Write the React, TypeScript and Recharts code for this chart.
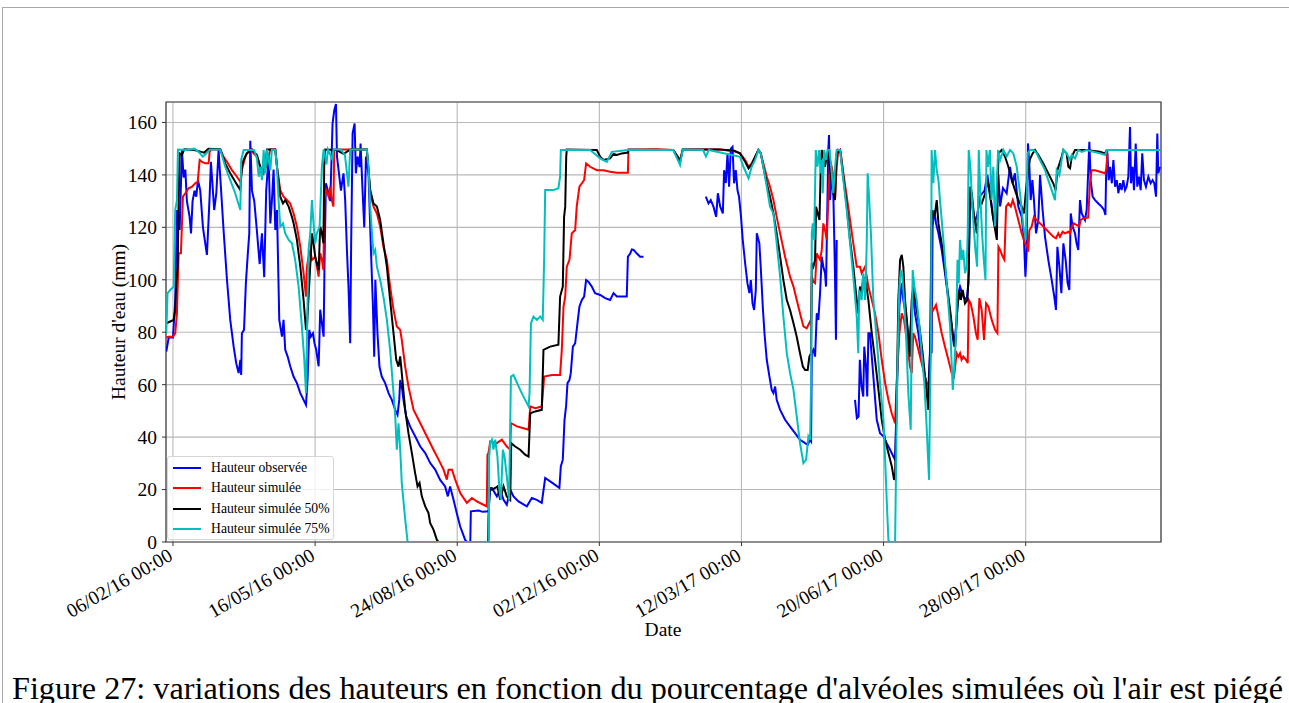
import { CartesianGrid, Line, LineChart, ReferenceArea, XAxis, YAxis } from "recharts"

const FONT = "'Liberation Serif', 'Times New Roman', serif"

// day offsets counted from 06/02/16
const START = Date.UTC(2016, 1, 6)
const xDomain = [-4.9, 695.2]
const xTicks = [0, 100, 200, 300, 400, 500, 600]
const yTicks = [0, 20, 40, 60, 80, 100, 120, 140, 160]

type Pt = [number, number | null]

const observed: Pt[] = [
  [-4.7, 72.6], [-3, 78], [0, 78], [1.6, 92], [2.8, 126.6], [4.7, 119], [6.3, 149.5], [7.5, 139], [8.7, 142], [9.8, 130],
  [11.7, 124], [12.7, 117.7], [13.8, 130], [15.2, 134], [16.4, 131.7], [17.6, 138], [19.2, 134], [21.1, 120], [23.9, 109.5],
  [25.8, 131.7], [26.7, 145], [28.1, 134], [29, 126.6], [30.5, 133], [32.1, 149.5], [33.3, 139], [35.6, 119], [38, 100],
  [40.3, 84.7], [42.7, 74.5], [44.5, 68.2], [46.2, 64.4], [47.4, 69.5], [48, 63.7], [48.5, 79.6], [50, 80.9], [51.3, 98.7],
  [52.8, 111], [53.7, 117.7], [54.4, 153], [55.6, 134], [57.2, 130], [59, 119], [61, 106], [62.6, 117.7], [64.2, 101],
  [65.6, 134], [67.3, 147], [68.5, 121.5], [69.6, 130], [70.8, 142], [72, 119], [73.2, 126.6], [74.8, 84.7], [76.7, 78.3],
  [77.8, 84.7], [79, 73.3], [80.7, 70.7], [82.5, 67], [84.9, 63], [87.2, 60.6], [89.6, 56.8], [91.9, 54.2], [93.6, 52.3],
  [94.7, 61.8], [95.9, 80.9], [97, 78.3], [98.5, 79.6], [99.6, 75.8], [100.8, 73.3], [102.5, 67], [103.6, 88.6], [104.8, 83.4],
  [106, 78.3], [106.7, 108.8], [107.6, 136.8], [109, 134], [110.7, 130], [112.3, 159.6], [113.5, 164.7], [114.7, 167],
  [115.4, 147], [116.5, 142], [118.2, 134], [120, 140.6], [121.2, 130], [122.4, 111.4], [123.6, 96], [124.7, 75.8],
  [125.4, 114.8], [126.4, 155.8], [127.8, 159.6], [128.7, 140.6], [129.9, 147], [131.3, 143], [132, 152], [133.4, 134],
  [134.6, 120], [135.8, 147], [137.6, 140.6], [139.3, 111.4], [140.7, 89.8], [141.6, 70.7], [142.4, 100], [143.9, 79.6],
  [145.3, 66.9], [146.9, 63.1], [149.3, 60.6], [151.7, 56.8], [154, 54.2], [156.4, 50.4], [158, 48.5], [159.2, 54.2],
  [159.9, 61.8], [161, 59.3], [162.2, 54.2], [164.1, 47.9], [166.9, 44], [170.4, 40.3], [174, 36.4], [177.5, 33.9],
  [181, 30.1], [184.5, 27.6], [188, 23.7], [191.5, 21.2], [193.4, 17.4], [195, 21.2], [197.4, 16.1], [199.7, 11],
  [202.1, 5.9], [205.6, 0.8], [206.8, 0], [209.2, 0], [209.6, 11.7], [215, 12], [218, 11.5], [222, 11.7], [223.2, 20.6],
  [224.4, 20.6], [227.9, 17.4], [230.2, 20], [232.6, 16.1], [234.9, 14.2], [237.3, 20], [239.6, 17.4], [243.1, 15.5],
  [249, 13.6], [252.5, 16.8], [256, 16.1], [259.5, 14.9], [261.9, 24.4], [265.4, 23.1], [268.9, 21.8], [271.9, 20.6],
  [272.9, 28.8], [274.3, 31.4], [275.5, 46.6], [276.6, 51.7], [277.6, 60.6], [279, 61.8], [279.9, 64.4], [281.4, 74.5],
  [283, 75.8], [284.6, 83.4], [286, 89.8], [287.7, 92.3], [289.3, 93.6], [290.7, 99.9], [292.3, 99.3], [294.7, 97.4],
  [297, 94.9], [300.6, 94.2], [304.1, 93], [307.6, 92.3], [310, 94.9], [312.3, 93.6], [315.8, 93.6], [319.3, 93.6],
  [320.1, 108.8], [321.7, 110], [322.9, 111.6], [324.1, 111.4], [326.4, 110], [328.7, 108.8], [331.1, 108.8],
  [350, null],
  [374.9, 131.7], [376.8, 129.1], [378.4, 130.4], [380.3, 127.9], [382.2, 124], [383.4, 133], [385, 128], [386.9, 125.3],
  [387.8, 141.8], [389, 136.9], [390.2, 148.2], [391.3, 135.5], [392.5, 150], [393.7, 150.7], [394.8, 136.8], [396, 141.8],
  [397.2, 134.2], [398.3, 131.7], [399.7, 124], [400.9, 115.2], [402.6, 106.3], [404.2, 98.7], [405.6, 94.9], [406.6, 99.9],
  [407.8, 91], [408.9, 88.5], [410.1, 96.1], [410.8, 117.7], [412.6, 113.9], [413.8, 102.5], [415, 89.8], [416.2, 79.6],
  [417.8, 69.5], [419.7, 63.1], [421.3, 58], [422.5, 56.8], [423.7, 59.3], [424.8, 54.2], [427.2, 50.4], [430.7, 46.6],
  [434.2, 44], [437.7, 41.5], [441.2, 39], [444.8, 37.7], [446.6, 37.1], [448.3, 39], [449, 38.4], [449.5, 72],
  [450.6, 73.3], [451.8, 70.7], [453, 87.2], [454.1, 84.7], [455.3, 94.9], [456.5, 108.8], [457.6, 105], [458.8, 102.5],
  [459.5, 97.4], [460.4, 126.6], [461.1, 149.5], [461.6, 155.2], [462.3, 130.4], [463.5, 139.3], [464.6, 134.2],
  [465.8, 102.5], [466.5, 77.1], [467, 115.2],
  [473, null],
  [479.9, 54.2], [481.2, 47.2], [482.4, 47.8], [483.3, 69.5], [484.5, 59.3], [485.7, 55.5], [486.4, 74.5], [487.6, 66.9],
  [488.5, 55.5], [489.3, 79.6], [490.4, 79.6], [492.8, 63.1], [495.2, 46.6], [497.5, 41.5], [499.9, 40.3], [502.2, 37.7],
  [504.6, 35.2], [506.9, 32.6], [508.1, 31.4], [509.2, 54.2], [511.1, 89.8], [512.8, 98.7], [513.9, 92.3], [515.8, 86],
  [518.1, 74.5], [520.5, 94.9], [522.1, 87.2], [524.5, 79.6], [526.8, 69.5], [529.1, 63.1], [531.5, 58], [532.7, 73.3],
  [533.8, 72], [534.5, 120.3], [535.7, 126.6], [536.9, 121.5], [538.6, 117.7], [540.9, 111.4], [543.2, 102.5],
  [545.6, 92.3], [547.9, 82.2], [549.6, 74.5], [551, 82.2], [552.6, 94.9], [553.8, 97.4], [556.1, 93.6], [558.5, 92.3],
  [559.7, 98.7], [560.9, 134], [562.5, 128], [564, 122], [566, 125], [568, 132], [571, 134], [573, 140], [575, 133],
  [577, 124], [579, 119], [580.8, 140], [582, 128], [584, 135], [586.6, 133], [588.9, 143], [590.8, 136.8], [592.4, 140.6],
  [594.8, 127.9], [597.2, 124], [598.8, 115.2], [599.8, 101.2], [600.7, 111.4], [601.6, 152], [602.6, 143.1],
  [603.5, 130.4], [604.7, 138], [605.8, 130.4], [607.3, 117.7], [608.9, 122.8], [610.1, 139.9], [611.9, 126.6],
  [613.6, 116.4], [615.9, 107.6], [618.3, 99.9], [620.1, 93.6], [621.3, 88.5], [622.3, 112.6], [623.7, 105], [625.1, 94.9],
  [626.5, 113.9], [628.1, 107.6], [629.5, 98.7], [630.7, 96.1], [631.7, 125.3], [633, 120.3], [634.7, 117.7],
  [635.8, 113.9], [637, 111.4], [638.2, 130.4], [639.4, 125.3], [640.6, 124], [641.7, 122.8], [642.9, 126.6],
  [644.1, 143.1], [644.8, 152.6], [645.7, 138], [647.1, 131.7], [648.8, 130.4], [651.1, 129.1], [653.4, 127.9],
  [655.1, 126.6], [656.1, 124.7], [656.6, 140.6], [657.5, 148.2], [658.4, 138], [659.4, 143.1], [660.6, 136.8],
  [661.7, 145.7], [662.9, 135.5], [664.1, 138], [665.2, 133], [666.4, 136.8], [667.5, 134.2], [668.7, 138], [669.9, 134.2],
  [671, 135.5], [672.2, 139.3], [673.4, 158.3], [674.1, 136.8], [675.2, 143.1], [676.2, 134.2], [677.4, 152], [678.5, 135.5],
  [679.7, 139.3], [680.9, 134.2], [682, 148.2], [683.2, 138], [684.6, 135.5], [686.3, 139.3], [687.9, 136.8], [689.3, 138],
  [690.5, 136.8], [691.7, 131.7], [692.6, 155.8], [693.3, 140.6], [694.5, 143.1],
]

const simulated: Pt[] = [
  [-4.7, 78], [-3, 78.3], [0, 78.3], [1.6, 79.6], [2.8, 87.2], [4, 110.1], [5.6, 110.1], [7, 131.7], [8.7, 133], [11, 134.9],
  [13.4, 135.5], [15.7, 136.8], [17.4, 137.4], [18.8, 145.7], [20.4, 145], [22.7, 144.4], [25.1, 144.4], [25.8, 148.8],
  [26.7, 149.7], [33.3, 149.7], [35.6, 146.9], [38, 145], [41.5, 141.8], [45, 139.3], [47.4, 137.4], [48.5, 141.8],
  [49.7, 144.4], [50.9, 146.9], [52, 148.2], [54.4, 149.5], [59.1, 146.9], [61.4, 143.1], [63.8, 140.6], [66.1, 144.4],
  [68.5, 149.7], [72, 149.7], [73.2, 143.1], [75.5, 134.2], [77.8, 131.7], [80.2, 130.4], [82.5, 129.1], [84.9, 125.3],
  [87.2, 120.3], [89.6, 112.6], [91.9, 102.5], [93.6, 93.6], [94.3, 105], [95.4, 108.8], [96.6, 111.4], [97.8, 107.6],
  [100.1, 108.8], [101.3, 105], [102.5, 101.2], [103.6, 110.1], [104.8, 107.6], [105.9, 103.7], [106.4, 130.4],
  [107.8, 134.2], [109.5, 131.7], [110.6, 135.5], [111.8, 130.4], [112.9, 127.9], [113.5, 149.7], [136.4, 149.7],
  [138.8, 133], [141.1, 127.9], [143.5, 125.3], [145.8, 120.3], [148.1, 112.6], [150.5, 107.6], [152.8, 97.4],
  [155.2, 88.5], [157.5, 82.2], [159.9, 80.9], [161, 77.1], [163.4, 66.9], [165.7, 59.3], [169.3, 50.4], [172.8, 46.6],
  [176.3, 42.8], [179.8, 39], [183.3, 35.2], [186.9, 31.4], [190.4, 27.6], [192.7, 23.8], [193.9, 27.6], [196.3, 27.6],
  [198.6, 23.8], [202.1, 18.7], [206.8, 14.9], [210.3, 16.8], [213.8, 15.5], [218.5, 14.2], [220.8, 13.6], [221.3, 33.3],
  [222, 33.9], [223.2, 38.3], [227.9, 37.7], [231.4, 39], [234.9, 36.4], [237.3, 35.2], [237.8, 45.3], [242, 44.1],
  [246.7, 43.4], [250.2, 42.8], [251.4, 51.7], [254.9, 51], [259.5, 51.7], [261.2, 63.1], [266.6, 63.7], [272.4, 63.7],
  [273.6, 73.3], [274.8, 89.8], [276, 93.6], [277.1, 105], [279, 107.6], [280.6, 117.7], [283, 119], [284.1, 127.9],
  [286, 135.5], [287.7, 136.8], [289.3, 138], [290.7, 144.4], [293.5, 143.1], [298.2, 141.8], [302.9, 141.8],
  [307.6, 141.2], [312.3, 140.8], [320.1, 140.8], [320.5, 149.5], [340, 149.8], [352, 149.5], [356.8, 145.7],
  [358.7, 149.7], [385, 149.7], [395, 149], [399, 148.2], [402.6, 145.7], [405, 143.1], [407.2, 144.4], [409.6, 146.9],
  [411.9, 149.5], [413.6, 148.2], [415.4, 144.4], [417.8, 139.3], [420.1, 135.5], [422.5, 130.4], [424.8, 124],
  [427.2, 117.7], [430.7, 108.8], [434.2, 101.2], [436.6, 97.4], [438.9, 92.3], [441.2, 87.2], [443.6, 82.2],
  [445.9, 81.5], [448.3, 84.1], [449, 83.4], [449.5, 101.2], [450.6, 99.3], [451.8, 98.7], [453, 110.1], [454.1, 108.8],
  [455.3, 107.6], [456.5, 111.4], [457.6, 121.5], [458.8, 119], [460, 115.2], [461.1, 130.4], [462.3, 145.7],
  [463.5, 143.1], [464.6, 139.3], [465.8, 130.4], [467, 143.1], [468.2, 149.5], [469.8, 148.8], [471.7, 140.6],
  [474.1, 131.7], [476.4, 122.8], [478.7, 113.9], [481.1, 105], [483.4, 105], [484.6, 102.5], [487, 105], [489.3, 97.4],
  [491.7, 92.3], [494, 87.2], [496.4, 79.6], [498.7, 69.5], [501.1, 60.6], [503.4, 54.2], [505.7, 49.1], [508.1, 45.3],
  [509.2, 60.6], [511.1, 79.6], [512.8, 87.2], [514.4, 84.7], [516.3, 77.1], [518.6, 66.9], [519.8, 64.4], [520.9, 79.6],
  [522.1, 78.3], [524.5, 73.3], [526.8, 68.2], [529.1, 63.1], [531.5, 56.8], [532.2, 55.5], [533.8, 89.8], [535, 88.5],
  [536.9, 90.4], [538.6, 86], [540.9, 79.6], [543.2, 74.5], [545.6, 69.5], [547.9, 64.4], [549.6, 63.1], [551.4, 72],
  [552.6, 70.7], [553.8, 72], [554.9, 69.5], [556.1, 70.7], [558, 69.5], [559.2, 68.2], [559.9, 92.3], [561.3, 91],
  [563.2, 86], [565, 79.6], [566.2, 77.1], [567.4, 93], [569, 88.5], [570.7, 77.1], [572.1, 91], [573.7, 89.8],
  [576.1, 84.7], [578.4, 80.9], [580.1, 79.6], [580.8, 112.6], [582, 111.4], [583.8, 108.8], [585, 107.6], [586.2, 127.9],
  [587.8, 129.1], [589.5, 127.9], [590.9, 130.4], [592.4, 127.9], [594.8, 122.8], [597.2, 117.7], [599.5, 113.9],
  [601.1, 112.6], [601.8, 110.7], [602.6, 119], [604.2, 120.3], [605.8, 124], [607.7, 122.8], [610.1, 121.5],
  [612.4, 120.3], [614.8, 119], [617.1, 117.7], [619.4, 116.4], [621.3, 115.8], [622.9, 117.7], [624.1, 116.4],
  [626, 118.3], [627.6, 117.7], [630, 118.3], [631.2, 117.7], [632.4, 120.3], [634, 121.5], [635.8, 120.9], [637.7, 120.3],
  [638.7, 122.8], [640.5, 123.4], [644, 123.8], [645.2, 136.8], [646.4, 141.8], [648.7, 141.8], [652.3, 141.2],
  [655.8, 140.6], [657, 142.5], [657.5, 149.5], [694.5, 149.5],
]

const simulated50: Pt[] = [
  [-4.7, 83.4], [-1.9, 84.1], [0.5, 84.7], [1.6, 88.5], [2.3, 98.7], [3.3, 105], [4, 130.4], [4.7, 148.2], [6.3, 147.6],
  [8, 149.8], [15, 149.5], [22, 148.5], [25, 150], [33.3, 149.8], [36.8, 144.4], [40.3, 140.6], [43.8, 137.4], [47.4, 134.2],
  [48.5, 143.1], [49.7, 145.7], [52, 148.2], [55.6, 149.7], [59.1, 147.6], [61.4, 143.1], [62.6, 140.6], [64.9, 143.1],
  [66.1, 149.7], [72, 149.7], [73.2, 143.1], [75.5, 131.7], [77.4, 129.1], [79, 130.4], [81.4, 127.9], [83.7, 124],
  [84.9, 121.5], [87.2, 115.2], [89.6, 105], [91.9, 92.3], [93.6, 80.9], [94.3, 82.2], [97.8, 117.7], [98.9, 113.9],
  [100.1, 108.8], [101.3, 106.3], [102.5, 103.7], [103.6, 120.3], [104.8, 117.7], [105.9, 113.9], [106.4, 143.1],
  [107.1, 149.7], [115, 149.5], [120, 148], [125, 149.7], [136.4, 149.7], [138.8, 134.2], [141.1, 129.1], [143.5, 127.9],
  [145.8, 122.8], [148.1, 113.9], [150.5, 105], [152.8, 92.3], [155.2, 79.6], [157.1, 69.5], [158.7, 66.9], [159.9, 70.8],
  [161, 64.4], [163.4, 50.4], [165.7, 41.5], [168.1, 33.9], [170.4, 26.3], [172.1, 21.2], [173.5, 22.5], [175.1, 17.4],
  [177.5, 13.6], [179.8, 11], [181, 7.2], [183.3, 4.7], [185.7, 0.8], [186.9, 0], [221.8, 0], [222, 9.1], [222.8, 19.9],
  [224.4, 19.9], [226.7, 20.6], [228.3, 21.2], [230.2, 16.1], [232.6, 21.2], [234.9, 17.4], [237.3, 16.1], [238, 37.7],
  [240.8, 36.4], [244.3, 35.2], [247.8, 33.3], [250.2, 32.6], [251.4, 49.1], [254.9, 49.8], [259.5, 50.4], [260.7, 73.3],
  [265.4, 74.5], [271.2, 75.2], [272.4, 93.6], [274.3, 97.4], [275.2, 124], [276, 127.9], [276.7, 146.9], [277.1, 149.7],
  [298.2, 149.5], [300.6, 146.9], [302.9, 145.7], [307.6, 146.3], [310, 148], [312.3, 147.6], [315.8, 148.2],
  [320.1, 148.5], [320.5, 149.7], [352, 149.5], [355, 147], [356.8, 145], [358.7, 149.7], [385, 149.7], [395, 149.2],
  [399, 148.2], [402.6, 145], [405, 142.5], [407.2, 144], [409.6, 146.9], [411.9, 149.5], [413.6, 148.2], [415.4, 143.1],
  [417.8, 136.8], [420.1, 131.7], [422.5, 125.3], [424.8, 117.7], [427.2, 108.8], [429.5, 99.9], [431.9, 92.3],
  [434.2, 88.5], [436.6, 83.4], [438.9, 78.3], [441.2, 72], [443.2, 66.9], [444.8, 65.6], [446.6, 65.6], [447.8, 70.7],
  [449, 72], [449.5, 106.3], [450.6, 105], [451.8, 107.6], [452.5, 127.9], [453.7, 125.3], [454.9, 122.8], [455.8, 143.1],
  [456.5, 149.5], [457.6, 146.9], [458.8, 143.1], [460, 146.9], [461.1, 149.5], [462.3, 143.1], [463.5, 136.8],
  [464.6, 133], [465.8, 130.4], [467, 148.2], [469.4, 149.5], [471.7, 139.3], [474.1, 127.9], [476.4, 115.2],
  [478.7, 105], [481.1, 92.3], [482.2, 87.2], [483.4, 97.4], [484.6, 94.9], [485.7, 101.2], [487.6, 98.7], [489.3, 92.3],
  [491.7, 79.6], [494, 69.5], [496.4, 58], [498.7, 46.6], [501.1, 39], [503.4, 33.9], [505.8, 28.8], [507.4, 23.7],
  [508.1, 25], [509.2, 54.2], [510.4, 92.3], [511.6, 107.6], [512.8, 109.5], [513.9, 105], [515.1, 92.3], [516.8, 82.2],
  [518.6, 70.7], [519.8, 92.3], [520.9, 97.4], [522.9, 89.8], [525.2, 82.2], [527.5, 72], [529.9, 59.3], [531.5, 50.4],
  [532.7, 72], [533.8, 126.6], [535, 124], [536.2, 125.3], [537.4, 130.4], [538.6, 121.5], [539.7, 117.7], [542.1, 110.1],
  [544.4, 98.7], [546.8, 88.5], [549.2, 77.1], [550.4, 74.5], [552, 89.8], [553.4, 96.1], [554.3, 92.3], [555.7, 96.1],
  [557.3, 91], [559, 92.3], [559.9, 102.5], [560.9, 135.5], [562.1, 133], [563.7, 124], [565.6, 117.7], [566.8, 130.4],
  [569.1, 129.1], [571.5, 133], [573.1, 138], [575, 131.7], [577.3, 122.8], [579.7, 115.2], [580.8, 148.2], [583.1, 149.5],
  [585.5, 146.9], [587.8, 143.1], [590.2, 138], [592.5, 134.2], [594.8, 130.4], [597.2, 127.9], [598.8, 125.3], [600, 133],
  [601.4, 140.6], [603, 146], [604.9, 148.2], [606.6, 149.5], [608.9, 147.6], [612.4, 144.4], [615.9, 140.6],
  [619.4, 136.8], [621.1, 134.2], [622.3, 141.8], [625.3, 146.9], [626.5, 149.5], [628.8, 148.2], [630, 143.1],
  [631.2, 142.5], [632.4, 146.9], [634.7, 149.5], [642.9, 149.5], [652.3, 148.8], [655.8, 148.2], [657, 149.5],
  [694.5, 149.5],
]

const simulated75: Pt[] = [
  [-4.7, 79.6], [-3.8, 94.9], [-1.9, 96.1], [0.5, 97.4], [1.6, 126.6], [2.8, 130.4], [3.5, 149.7], [10, 149.5], [15, 150],
  [18, 148.8], [21, 147], [23, 148], [26, 149.7], [33.3, 149.7], [36.8, 143.1], [40.3, 138], [43.8, 133], [47.4, 126.6],
  [48, 145.7], [49.7, 149.5], [57, 149.5], [59.1, 146.3], [60.3, 139.3], [61.4, 143.1], [62.6, 138], [63.8, 149.5],
  [64.9, 140.6], [66.1, 149.7], [68.5, 141.8], [69.6, 149.5], [72, 149.5], [73.2, 143.1], [74.3, 130.4], [75.5, 120.3],
  [77.4, 121.5], [79, 117.7], [81.4, 115.2], [83.7, 113.9], [86, 107.6], [88.4, 97.4], [90.7, 82.2], [92.4, 69.5],
  [93.6, 56.8], [94.3, 79.6], [95.4, 111.4], [96.6, 117.7], [97.8, 130.4], [98.9, 121.5], [100.1, 113.9], [101.3, 117.7],
  [103.2, 120.3], [104.8, 143.1], [106, 149.7], [108, 144], [109, 149.7], [112, 146], [113, 149.7], [118, 149.7],
  [121, 147.5], [123.5, 135.5], [124.7, 149.7], [136.4, 149.7], [137.6, 143.1], [138.8, 127.9], [140, 117.7],
  [141.1, 110.1], [142.3, 111.4], [143.5, 105], [145.8, 99.9], [148.1, 93.6], [150.5, 84.7], [152.8, 73.3], [155.2, 56.8],
  [156.4, 47.9], [157.5, 35.2], [158.7, 45.3], [159.9, 35.2], [161, 22.5], [163.4, 8.6], [165.1, 0], [222.3, 0],
  [222.5, 32.6], [223.2, 37.7], [224.4, 39], [225.5, 35.2], [226.7, 39], [228.3, 32.6], [229.7, 19.9], [230.7, 16.1],
  [232.1, 35.2], [233.3, 32.6], [234.9, 25], [236.5, 16.1], [237.8, 63.1], [239.6, 63.7], [244.3, 58], [247.8, 54.2],
  [250.2, 51.7], [250.9, 56.8], [251.9, 83.4], [253.7, 86], [256, 84.7], [258.4, 86], [260.2, 84.7], [261.2, 108.8],
  [261.9, 134.2], [264.2, 134.2], [267.7, 134.2], [271.2, 134.9], [272.4, 139.3], [272.9, 149.5], [293.5, 149.5],
  [300.6, 146.3], [305.3, 145], [308.8, 148.8], [320, 149.5], [352, 149.5], [356.8, 143.8], [358.7, 149.7], [373, 149.5],
  [375, 147], [377, 149.5], [399, 146.9], [401.4, 143.1], [405, 138.7], [407.2, 143.1], [409.6, 145.7], [411.9, 149.5],
  [413.6, 148.2], [415.4, 143.1], [417.8, 135.5], [420.1, 127.9], [422.5, 125.3], [424.8, 113.9], [427.2, 101.2],
  [429.5, 86], [431.9, 72], [434.2, 64.4], [436.6, 58], [438.9, 47.9], [441.2, 37.7], [443.6, 30.1], [445.5, 31.4],
  [447.1, 40.3], [448.3, 39], [449, 60.6], [449.5, 117.7], [450.2, 121.5], [451.1, 115.2], [452.3, 149.5], [453.5, 143.1],
  [454.7, 149.5], [455.8, 140.6], [456.5, 145.7], [457.2, 133], [458.2, 149.5], [459.6, 145.7], [460.6, 149.5],
  [462, 149.5], [463.5, 140.6], [464.6, 133], [465.8, 142.5], [467, 149.5], [469.4, 149.5], [471.7, 138], [474.1, 126.6],
  [476.4, 113.9], [478.7, 101.2], [481.1, 86], [482.2, 72], [482.9, 96.1], [484.6, 92.3], [485.7, 102.5], [487, 92.3],
  [488.1, 112.6], [488.8, 140.6], [489.9, 130.4], [491.1, 117.7], [492.8, 92.3], [495.2, 77.1], [497.5, 60.6],
  [499.9, 46.6], [501.1, 31.4], [502.2, 16.1], [503.4, 0.8], [504.1, 0], [508.1, 0], [508.8, 28.8], [509.7, 66.9],
  [511.1, 97.4], [512.1, 103.7], [513.2, 101.2], [514.4, 92.3], [515.8, 79.6], [517.4, 56.8], [519.1, 42.8], [519.8, 79.6],
  [520.5, 103.7], [521.7, 97.4], [523.3, 92.3], [525.2, 82.2], [526.8, 72], [528.7, 60.6], [530.3, 44], [532, 23.7],
  [532.7, 54.2], [533.4, 79.6], [533.8, 149.5], [535, 136.8], [536.2, 149.5], [537.4, 141.8], [538.6, 138], [539.7, 130.4],
  [542.1, 115.2], [544.4, 98.7], [546.8, 82.2], [548.7, 58], [549.6, 65.6], [551, 79.6], [552, 107.6], [552.9, 98.7],
  [553.8, 115.2], [555, 107.6], [556.1, 111.4], [557.3, 102.5], [558.5, 105], [559.2, 117.7], [559.9, 149.5],
  [561.1, 143.1], [562.2, 130.4], [563.4, 120.3], [564.6, 111.4], [565.8, 105], [567, 149.5], [568.2, 130.4],
  [569.3, 117.7], [570.5, 107.6], [571.7, 99.9], [572.4, 149.5], [573.4, 143.1], [574.8, 149.5], [576, 130.4],
  [577.2, 143.1], [578.4, 120.3], [580.6, 149.5], [582, 145.7], [584.3, 149.5], [586.6, 147], [589, 149.5], [591.3, 148.2],
  [593.7, 143.1], [596, 133], [598.4, 120.3], [600, 115.2], [600.7, 130.4], [601.4, 148.2], [603.1, 149.5], [605.4, 149.5],
  [607.8, 148.2], [608.9, 146.9], [611.2, 144.4], [613.6, 141.8], [615.9, 138], [618.3, 134.2], [620.6, 130.4],
  [621.8, 141.8], [623.7, 139.9], [625.3, 145.7], [626.5, 149.5], [628.8, 148.2], [631.2, 145.7], [632.4, 147.6],
  [634.7, 146.3], [637, 149.5], [639.4, 148.8], [642.9, 149.5], [647.6, 148.8], [652.3, 148.2], [655.8, 147.6],
  [657, 149.5], [694.5, 149.5],
]

const seriesNames = ["Hauteur observée", "Hauteur simulée", "Hauteur simulée 50%", "Hauteur simulée 75%"]
const seriesColors = ["#0000ff", "#ff0000", "#000000", "#00bfbf"]
const seriesData = [observed, simulated, simulated50, simulated75]

const toRows = (pts: Pt[]) => pts.map(([d, v]) => ({ d, v }))

function formatDay(d: number) {
  const dt = new Date(START + d * 86400000)
  const dd = String(dt.getUTCDate()).padStart(2, "0")
  const mm = String(dt.getUTCMonth() + 1).padStart(2, "0")
  const yy = String(dt.getUTCFullYear() % 100).padStart(2, "0")
  return `${dd}/${mm}/${yy} 00:00`
}

function DateTick({ x, y, payload }: any) {
  return (
    <g transform={`translate(${x + 1},${y + 11}) rotate(-30)`}>
      <text textAnchor="end" fontSize={19.5} fontFamily={FONT} fill="#000">
        {formatDay(payload.value)}
      </text>
    </g>
  )
}

function LegendBox() {
  return (
    <div
      style={{
        position: "absolute",
        left: 167,
        top: 456,
        width: 167,
        height: 84,
        boxSizing: "border-box",
        border: "1px solid #d6d6d6",
        borderRadius: 3,
        background: "rgba(255,255,255,0.8)",
        fontFamily: FONT,
        fontSize: 13.7,
        paddingTop: 1,
      }}
    >
      {seriesNames.map((name, i) => (
        <div key={name} style={{ display: "flex", alignItems: "center", height: 20.3 }}>
          <div style={{ marginLeft: 5, width: 28, height: 0, borderTop: `2px solid ${seriesColors[i]}` }} />
          <span style={{ marginLeft: 10 }}>{name}</span>
        </div>
      ))}
    </div>
  )
}

export default function App() {
  return (
    <div style={{ position: "absolute", left: 0, top: 0, width: 1289, height: 703, background: "#fff", overflow: "hidden" }}>
      <div style={{ position: "absolute", left: 2, top: 7, width: 1287, height: 696, borderTop: "1px solid #a8a8a8", borderLeft: "1px solid #a8a8a8" }} />
      <div style={{ position: "absolute", left: 0, top: 0 }}>
        <LineChart width={1289} height={703} margin={{ top: 102, right: 128, bottom: 101, left: 106 }}>
          <CartesianGrid stroke="#b8b8b8" strokeWidth={1.1} />
          <XAxis
            dataKey="d"
            type="number"
            domain={xDomain}
            ticks={xTicks}
            allowDataOverflow
            height={60}
            tick={<DateTick />}
            tickSize={4}
            tickMargin={2}
            tickLine={{ stroke: "#333" }}
            axisLine={false}
            interval={0}
          />
          <YAxis
            type="number"
            domain={[0, 167.8]}
            ticks={yTicks}
            allowDataOverflow
            width={60}
            tickSize={4}
            tickMargin={5}
            tickLine={{ stroke: "#333" }}
            axisLine={false}
            tick={{ fill: "#000", fontSize: 19.5, fontFamily: FONT }}
            interval={0}
          />
          {seriesData.map((pts, i) => (
            <Line
              key={seriesNames[i]}
              data={toRows(pts)}
              dataKey="v"
              name={seriesNames[i]}
              type="linear"
              stroke={seriesColors[i]}
              strokeWidth={2}
              dot={false}
              activeDot={false}
              connectNulls={false}
              isAnimationActive={false}
            />
          ))}
          <ReferenceArea x1={xDomain[0]} x2={xDomain[1]} y1={0} y2={167.8} fill="none" stroke="#444" strokeWidth={1.2} />
        </LineChart>
      </div>
      <LegendBox />
      <svg width={1289} height={703} style={{ position: "absolute", left: 0, top: 0, pointerEvents: "none" }}>
        <text
          transform="translate(125,322) rotate(-90)"
          textAnchor="middle"
          fontSize={19.5}
          fontFamily={FONT}
          fill="#000"
        >
          Hauteur d'eau (mm)
        </text>
        <text x={663} y={636} textAnchor="middle" fontSize={19.5} fontFamily={FONT} fill="#000">
          Date
        </text>
        <text x={12} y={699} fontSize={32} fontFamily={FONT} fill="#000" textLength={1271} lengthAdjust="spacingAndGlyphs">
          Figure 27: variations des hauteurs en fonction du pourcentage d'alvéoles simulées où l'air est piégé
        </text>
      </svg>
    </div>
  )
}
